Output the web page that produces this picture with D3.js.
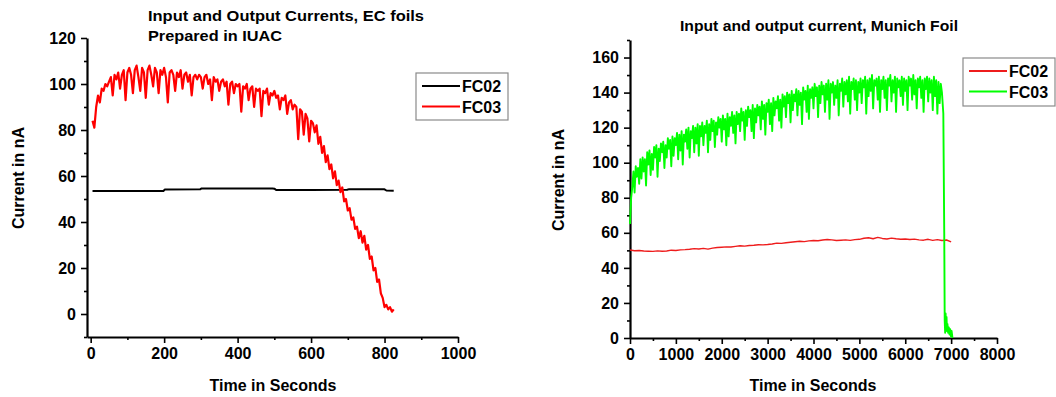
<!DOCTYPE html>
<html>
<head>
<meta charset="utf-8">
<script src="https://cdn.jsdelivr.net/npm/d3@7"></script>
<style>
  body { margin: 0; background: #fff; }
  svg text { font-family: "Liberation Sans", Arial, sans-serif; font-weight: bold; fill: #000; }
</style>
</head>
<body>
<script>
// ---- left panel: EC foils prepared in IUAC ----
const leftTitle = ["Input and Output Currents, EC foils", "Prepared in IUAC"];
const leftXTicks = [0, 200, 400, 600, 800, 1000];
const leftXMinor = [100, 300, 500, 700, 900];
const leftYTicks = [0, 20, 40, 60, 80, 100, 120];
const leftYMinor = [-10, 10, 30, 50, 70, 90, 110];

// FC02 steps (seconds, nA)
const leftFC02Time = [5, 198, 202, 298, 302, 495, 500, 505, 600, 698, 702, 800, 805, 825];
const leftFC02 = [53.5, 53.5, 54.1, 54.2, 54.6, 54.6, 54.5, 53.9, 53.9, 54.0, 54.2, 54.2, 53.7, 53.6];

// FC03 sampled every 5 s starting at 5 s
const leftFC03Start = 5, leftFC03Step = 5;
const leftFC03 = [
  84, 81, 90, 95, 92, 98, 97, 100, 99, 101,
  103, 95, 104, 102, 105, 98, 104, 106, 93, 105,
  107, 104, 96, 106, 108, 103, 97, 107, 105, 94,
  106, 108, 104, 99, 107, 105, 96, 106, 104, 107,
  103, 92, 105, 106, 104, 97, 105, 103, 106, 98,
  104, 105, 101, 104, 95, 103, 104, 102, 104, 103,
  98, 103, 104, 100, 102, 93, 103, 101, 102, 97,
  101, 102, 99, 101, 91, 100, 101, 96, 100, 99,
  100, 88, 99, 98, 100, 93, 98, 99, 90, 98,
  97, 98, 86, 97, 96, 98, 91, 96, 95, 97,
  94, 95, 89, 94, 93, 95, 87, 92, 93, 89,
  91, 90, 76, 89, 88, 78, 87, 85, 75, 84,
  83, 79, 82, 74, 77, 70, 73, 66, 69, 63,
  65, 59, 62, 56, 58, 53, 55, 49, 50, 45,
  46, 41, 42, 37, 38, 33, 36, 31, 34, 28,
  30, 24, 25, 19, 20, 14, 15, 9, 7, 3,
  4, 2, 3, 1, 2
];

// ---- right panel: Munich foil ----
const rightTitle = "Input and output current, Munich Foil";
const rightXTicks = [0, 1000, 2000, 3000, 4000, 5000, 6000, 7000, 8000];
const rightXMinor = [500, 1500, 2500, 3500, 4500, 5500, 6500, 7500];
const rightYTicks = [0, 20, 40, 60, 80, 100, 120, 140, 160];
const rightYMinor = [10, 30, 50, 70, 90, 110, 130, 150, 170];

// FC02 every 100 s
const rightFC02Step = 100;
const rightFC02 = [
  50.2, 49.8, 49.9, 49.6, 49.5, 49.4, 49.7, 49.5, 49.6, 50.1,
  49.9, 50.3, 50.4, 50.6, 51.0, 50.8, 51.1, 50.7, 51.3, 51.6,
  51.8, 52.0, 51.9, 52.3, 52.6, 52.4, 52.8, 52.9, 53.2, 53.1,
  53.3, 53.6, 54.1, 54.0, 54.3, 54.6, 54.9, 55.2, 55.0, 55.4,
  55.6, 55.5, 55.9, 56.2, 56.0, 55.6, 55.8, 56.0, 55.7, 56.1,
  56.3, 56.9, 57.2, 56.6, 57.4, 56.8, 56.5, 57.0, 56.6, 56.3,
  56.5, 56.2, 56.4, 56.0, 55.8, 56.3, 55.7, 56.1, 55.6, 55.9,
  54.8
];

// FC03: every 50 s a low reading, followed 25 s later by a high reading
const rightFC03Step = 50;
const rightFC03Lo = [
  65, 86, 83, 92, 88, 91, 95, 87, 99, 93,
  96, 103, 92, 101, 106, 97, 103, 108, 98, 104,
  110, 102, 107, 99, 112, 108, 103, 114, 106, 111,
  104, 115, 110, 117, 106, 113, 118, 109, 116, 120,
  112, 119, 110, 115, 121, 117, 111, 122, 118, 124,
  113, 121, 126, 118, 114, 123, 127, 119, 125, 116,
  129, 122, 118, 127, 131, 124, 120, 132, 126, 134,
  123, 130, 135, 127, 133, 122, 136, 129, 125, 137,
  131, 138, 126, 134, 139, 129, 136, 125, 140, 133,
  137, 127, 141, 132, 139, 135, 128, 142, 136, 130,
  140, 134, 143, 128, 138, 141, 131, 144, 136, 129,
  142, 137, 130, 144, 135, 140, 129, 143, 138, 133,
  141, 130, 144, 136, 139, 131, 143, 137, 129, 142,
  135, 140, 130, 138, 128, 134
];
const rightFC03Hi = [
  80, 95, 98, 97, 102, 103, 102, 106, 107, 105,
  109, 110, 108, 111, 112, 110, 114, 113, 115, 114,
  117, 116, 118, 116, 119, 120, 118, 121, 120, 122,
  121, 123, 121, 124, 122, 125, 124, 123, 126, 125,
  127, 125, 128, 126, 129, 127, 129, 128, 131, 129,
  130, 132, 130, 133, 131, 133, 132, 135, 133, 134,
  136, 134, 137, 135, 138, 136, 139, 138, 140, 139,
  141, 139, 142, 141, 140, 143, 141, 144, 142, 143,
  145, 143, 144, 146, 144, 145, 147, 145, 146, 144,
  147, 145, 148, 146, 147, 149, 146, 148, 147, 146,
  148, 147, 149, 147, 148, 150, 147, 148, 149, 147,
  149, 147, 148, 150, 147, 149, 148, 147, 149, 148,
  147, 149, 148, 150, 147, 148, 149, 147, 148, 149,
  148, 147, 149, 147, 146, 145
];
// drop at the end of the run
const rightFC03DropTime = [6800, 6830, 6850, 6860, 6870, 6880, 6890, 6900, 6910, 6920, 6935, 6950, 6965, 6980, 6995, 7010, 7030];
const rightFC03Drop = [140, 128, 60, 10, 3, 14, 5, 12, 4, 8, 3, 6, 2, 5, 1, 4, 0];

const svg = d3.select("body").append("svg")
    .attr("width", 1056)
    .attr("height", 397);

svg.append("rect").attr("width", 1056).attr("height", 397).attr("fill", "#fff");

function drawAxes(x, y, xTicks, xMinor, yTicks, yMinor) {
    const y0 = y.range()[0], x0 = x.range()[0];
    // minor ticks first
    svg.append("g")
        .attr("transform", "translate(0," + y0 + ")")
        .call(d3.axisBottom(x).tickValues(xMinor).tickSize(3).tickFormat(""))
        .call(g => g.select(".domain").remove())
        .selectAll("line").attr("stroke-width", 1.6);
    svg.append("g")
        .attr("transform", "translate(" + x0 + ",0)")
        .call(d3.axisLeft(y).tickValues(yMinor).tickSize(3).tickFormat(""))
        .call(g => g.select(".domain").remove())
        .selectAll("line").attr("stroke-width", 1.6);

    const gx = svg.append("g")
        .attr("transform", "translate(0," + y0 + ")")
        .call(d3.axisBottom(x).tickValues(xTicks).tickFormat(d3.format("d"))
            .tickSize(6).tickSizeOuter(0).tickPadding(5));
    const gy = svg.append("g")
        .attr("transform", "translate(" + x0 + ",0)")
        .call(d3.axisLeft(y).tickValues(yTicks).tickFormat(d3.format("d"))
            .tickSize(6).tickSizeOuter(0).tickPadding(5));
    [gx, gy].forEach(g => {
        g.attr("font-family", null).attr("font-size", 16);
        g.select(".domain").attr("stroke-width", 2.2);
        g.selectAll(".tick line").attr("stroke-width", 1.6);
    });
}

function drawLine(x, y, pts, color, w) {
    svg.append("path")
        .datum(pts)
        .attr("fill", "none")
        .attr("stroke", color)
        .attr("stroke-width", w)
        .attr("stroke-linejoin", "round")
        .attr("d", d3.line().x(d => x(d[0])).y(d => y(d[1])));
}

function drawLegend(bx, by, bw, bh, names, colors) {
    svg.append("rect")
        .attr("x", bx).attr("y", by).attr("width", bw).attr("height", bh)
        .attr("fill", "#fff").attr("stroke", "#8a8a8a").attr("stroke-width", 1.2);
    names.forEach((n, i) => {
        const ly = by + 13 + i * 20.5;
        svg.append("line")
            .attr("x1", bx + 6).attr("x2", bx + 44)
            .attr("y1", ly).attr("y2", ly)
            .attr("stroke", colors[i]).attr("stroke-width", 2);
        svg.append("text")
            .attr("x", bx + 46).attr("y", ly + 6)
            .attr("font-size", 16)
            .text(n);
    });
}

// ---- left chart ----
const xL = d3.scaleLinear().domain([-10, 1000]).range([87, 458]);
const yL = d3.scaleLinear().domain([-10, 120]).range([337, 38]);
drawAxes(xL, yL, leftXTicks, leftXMinor, leftYTicks, leftYMinor);

drawLine(xL, yL, leftFC02Time.map((t, i) => [t, leftFC02[i]]), "#000", 2);
drawLine(xL, yL, leftFC03.map((v, i) => [leftFC03Start + i * leftFC03Step, v]), "#ff0000", 2.2);

svg.append("text").attr("x", 148).attr("y", 21).attr("font-size", 15)
    .attr("textLength", 276).attr("lengthAdjust", "spacingAndGlyphs").text(leftTitle[0]);
svg.append("text").attr("x", 148).attr("y", 41).attr("font-size", 15)
    .attr("textLength", 134).attr("lengthAdjust", "spacingAndGlyphs").text(leftTitle[1]);
svg.append("text").attr("x", 273).attr("y", 391).attr("text-anchor", "middle").attr("font-size", 16).text("Time in Seconds");
svg.append("text").attr("transform", "translate(24,178) rotate(-90)").attr("text-anchor", "middle").attr("font-size", 16).text("Current in nA");
drawLegend(416, 73, 92, 47, ["FC02", "FC03"], ["#000", "#ff0000"]);

// ---- right chart ----
const xR = d3.scaleLinear().domain([0, 8000]).range([630, 997]);
const yR = d3.scaleLinear().domain([0, 170]).range([338, 40]);
drawAxes(xR, yR, rightXTicks, rightXMinor, rightYTicks, rightYMinor);

drawLine(xR, yR, rightFC02.map((v, i) => [i * rightFC02Step, v]), "#ee1c1c", 1.4);

const greenPts = [];
rightFC03Lo.forEach((v, i) => {
    greenPts.push([i * rightFC03Step, v]);
    greenPts.push([i * rightFC03Step + rightFC03Step / 2, rightFC03Hi[i]]);
});
rightFC03DropTime.forEach((t, i) => greenPts.push([t, rightFC03Drop[i]]));
drawLine(xR, yR, greenPts, "#00ff00", 1.9);

svg.append("text").attr("x", 819).attr("y", 31).attr("text-anchor", "middle").attr("font-size", 15)
    .attr("textLength", 278).attr("lengthAdjust", "spacingAndGlyphs").text(rightTitle);
svg.append("text").attr("x", 813).attr("y", 391).attr("text-anchor", "middle").attr("font-size", 16).text("Time in Seconds");
svg.append("text").attr("transform", "translate(564,180) rotate(-90)").attr("text-anchor", "middle").attr("font-size", 16).text("Current in nA");
drawLegend(963, 58, 92, 48, ["FC02", "FC03"], ["#ee1c1c", "#00ff00"]);
</script>
</body>
</html>
